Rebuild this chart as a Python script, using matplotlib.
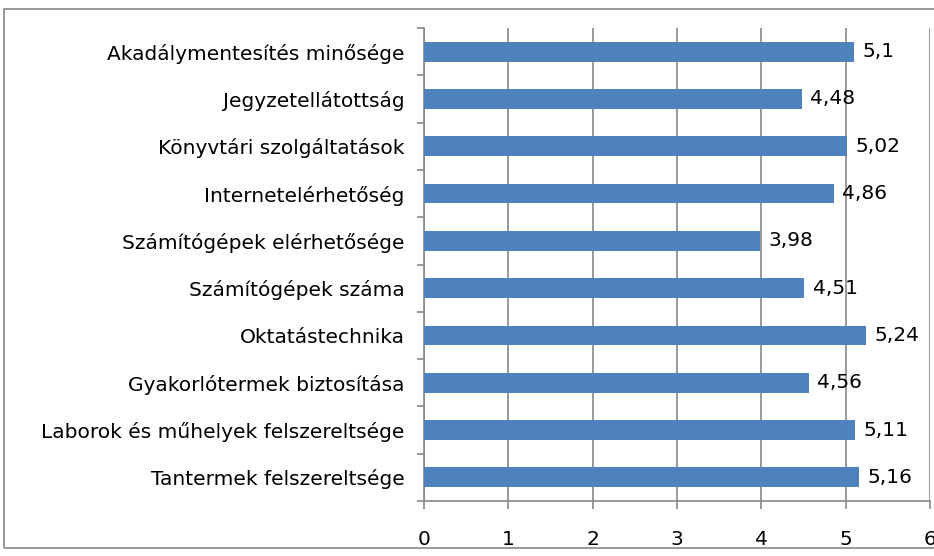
import matplotlib.pyplot as plt
from matplotlib.patches import Rectangle
import numpy as np

categories = [
    "Akadálymentesítés minősége",
    "Jegyzetellátottság",
    "Könyvtári szolgáltatások",
    "Internetelérhetőség",
    "Számítógépek elérhetősége",
    "Számítógépek száma",
    "Oktatástechnika",
    "Gyakorlótermek biztosítása",
    "Laborok és műhelyek felszereltsége",
    "Tantermek felszereltsége",
]
values = [5.1, 4.48, 5.02, 4.86, 3.98, 4.51, 5.24, 4.56, 5.11, 5.16]
labels = ["5,1", "4,48", "5,02", "4,86", "3,98", "4,51", "5,24", "4,56", "5,11", "5,16"]

plt.rcParams['font.family'] = ['DejaVu Sans']

fig = plt.figure(figsize=(9.34, 5.56), dpi=100)
fig.patches.append(Rectangle((4 / 934, 1 - 548 / 556), 1.0, 539 / 556,
                             transform=fig.transFigure, fill=False,
                             edgecolor="#888888", linewidth=1.2))
ax = fig.add_axes([424 / 934, 1 - 501 / 556, 506 / 934, 473 / 556])

y = np.arange(len(categories))
ax.barh(y, values, height=0.42, color="#4F81BD", zorder=3)
for yi, v, t in zip(y, values, labels):
    ax.text(v + 0.1, yi, t, va="center", ha="left", fontsize=14.5, zorder=4)

ax.set_xlim(0, 6)
ax.set_ylim(len(categories) - 0.5, -0.5)
ax.set_xticks(range(7))
ax.set_yticks(y)
ax.set_yticklabels(categories, fontsize=14.5)
ax.set_yticks(np.arange(-0.5, len(categories)), minor=True)
ax.tick_params(axis="y", which="major", length=0, pad=14)
ax.tick_params(axis="y", which="minor", length=5, color="#888888", width=1.2)
ax.tick_params(axis="x", length=6, color="#888888", width=1.2, labelsize=14.5, pad=15)
ax.grid(axis="x", color="#888888", linewidth=1.2, zorder=0)
for s in ["top", "right"]:
    ax.spines[s].set_visible(False)
for s in ["left", "bottom"]:
    ax.spines[s].set_color("#888888")
    ax.spines[s].set_linewidth(1.2)

fig.savefig("out.png", dpi=100)
